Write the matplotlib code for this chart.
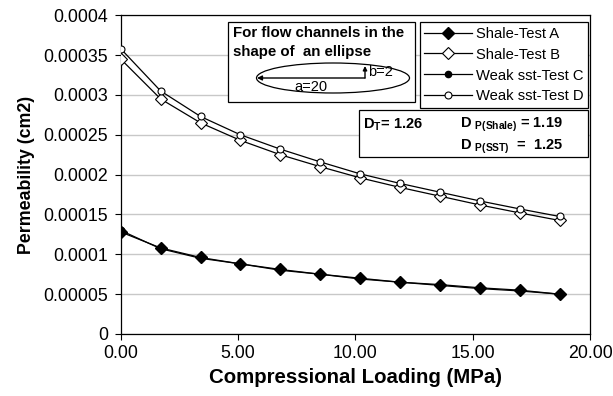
import matplotlib
matplotlib.use("Agg")
import matplotlib.pyplot as plt
from matplotlib.patches import Ellipse, Rectangle, FancyArrowPatch

plt.rcParams['font.family'] = ['Liberation Sans', 'DejaVu Sans']
plt.rcParams['mathtext.fontset'] = 'custom'
plt.rcParams['mathtext.rm'] = 'Liberation Sans'
plt.rcParams['mathtext.bf'] = 'Liberation Sans:bold'

loading = [0.0, 1.7, 3.4, 5.1, 6.8, 8.5, 10.2, 11.9, 13.6, 15.3, 17.0, 18.7]
shale_a = [0.000128, 0.000108, 0.000096, 0.000088, 0.000081, 0.000075, 0.000070, 0.000065, 0.000062, 0.000058, 0.000055, 0.000050]
shale_b = [0.000345, 0.000295, 0.000265, 0.000243, 0.000225, 0.000210, 0.000196, 0.000184, 0.000173, 0.000162, 0.000152, 0.0001425]
weak_c = [0.000130, 0.000107, 0.000095, 0.000088, 0.000080, 0.000075, 0.000069, 0.000065, 0.000061, 0.000057, 0.000054, 0.000050]
weak_d = [0.000358, 0.000305, 0.000273, 0.000250, 0.000232, 0.000216, 0.000201, 0.000189, 0.000178, 0.000167, 0.000157, 0.0001475]

xticks = [0, 5, 10, 15, 20]
xticklabels = ["0.00", "5.00", "10.00", "15.00", "20.00"]
yticks = [0, 0.00005, 0.0001, 0.00015, 0.0002, 0.00025, 0.0003, 0.00035, 0.0004]
yticklabels = ["0", "0.00005", "0.0001", "0.00015", "0.0002", "0.00025", "0.0003", "0.00035", "0.0004"]

fig = plt.figure(figsize=(6.13, 3.96), dpi=100)
ax = fig.add_axes([0.197, 0.1566, 0.7655, 0.8048])

lw = 0.9
la, = ax.plot(loading, shale_a, color='black', lw=lw, marker='D', ms=6, mfc='black', mec='black', label='Shale-Test A', zorder=3)
lb, = ax.plot(loading, shale_b, color='black', lw=lw, marker='D', ms=6.5, mfc='white', mec='black', mew=0.8, label='Shale-Test B', zorder=3)
lc, = ax.plot(loading, weak_c, color='black', lw=lw, marker='o', ms=4.5, mfc='black', mec='black', label='Weak sst-Test C', zorder=3)
ld, = ax.plot(loading, weak_d, color='black', lw=lw, marker='o', ms=5, mfc='white', mec='black', mew=0.8, label='Weak sst-Test D', zorder=4)

ax.set_xlim(0, 20)
ax.set_ylim(0, 0.0004)
ax.set_xticks(xticks)
ax.set_xticklabels(xticklabels)
ax.set_yticks(yticks)
ax.set_yticklabels(yticklabels)
ax.tick_params(axis='both', direction='out', length=4, width=0.8, labelsize=12.8, colors='black')
ax.tick_params(axis='y', pad=5)
ax.tick_params(axis='x', pad=4)
ax.yaxis.grid(True, color='#c8c8c8', lw=1)
ax.set_axisbelow(True)
for s in ax.spines.values():
    s.set_linewidth(0.9)
ax.set_xlabel('Compressional Loading (MPa)', fontsize=14.7, fontweight='bold', labelpad=4)
ax.set_ylabel('Permeability (cm2)', fontsize=12.8, fontweight='bold', labelpad=6)

leg = ax.legend(handles=[la, lb, lc, ld], loc='upper right', bbox_to_anchor=(0.9957, 0.978),
                fontsize=10.6, frameon=True, fancybox=False, edgecolor='black', framealpha=1,
                handlelength=3.2, handletextpad=0.3, borderpad=0.3, labelspacing=0.47, borderaxespad=0)
leg.get_frame().set_linewidth(0.9)

W, H = 613.0, 396.0
def fx(px):
    return px / W
def fy(py):
    return 1 - py / H

# Ellipse info box
fig.patches.append(Rectangle((fx(228), fy(102)), fx(415) - fx(228), fy(22) - fy(102),
                             transform=fig.transFigure, fill=True, facecolor='white', edgecolor='black', lw=0.9, zorder=5))
fig.text(fx(233), fy(33), 'For flow channels in the', fontsize=10.8, fontweight='bold', va='center', ha='left', zorder=6)
fig.text(fx(233), fy(52), 'shape of  an ellipse', fontsize=10.8, fontweight='bold', va='center', ha='left', zorder=6)
fig.patches.append(Ellipse((fx(333), fy(78)), fx(153), 30 / H, transform=fig.transFigure,
                           fill=False, edgecolor='black', lw=0.9, zorder=6))
fig.add_artist(FancyArrowPatch((fx(365), fy(78)), (fx(257), fy(78)), transform=fig.transFigure,
                               arrowstyle='-|>', mutation_scale=7, lw=1.0, color='black', zorder=7,
                               shrinkA=0, shrinkB=0))
fig.add_artist(FancyArrowPatch((fx(365), fy(78)), (fx(365), fy(66)), transform=fig.transFigure,
                               arrowstyle='-|>', mutation_scale=6, lw=1.0, color='black', zorder=7,
                               shrinkA=0, shrinkB=0))
fig.text(fx(368), fy(72), 'b=2', fontsize=10.5, va='center', ha='left', zorder=7)
fig.text(fx(311), fy(87), 'a=20', fontsize=10.5, va='center', ha='center', zorder=7)

# D box
fig.patches.append(Rectangle((fx(359), fy(157)), fx(588) - fx(359), fy(110) - fy(157),
                             transform=fig.transFigure, fill=True, facecolor='white', edgecolor='black', lw=0.9, zorder=5))
fig.text(fx(363), fy(125), r'D$_\mathbf{T}$= 1.26', fontsize=10.5, fontweight='bold', va='center', ha='left', zorder=6)
fig.text(fx(460), fy(125), r'D $_\mathbf{P(Shale)}$ = 1.19', fontsize=10.5, fontweight='bold', va='center', ha='left', zorder=6)
fig.text(fx(460), fy(147), r'D $_\mathbf{P(SST)}$  =  1.25', fontsize=10.5, fontweight='bold', va='center', ha='left', zorder=6)

fig.savefig('out.png', dpi=100)
